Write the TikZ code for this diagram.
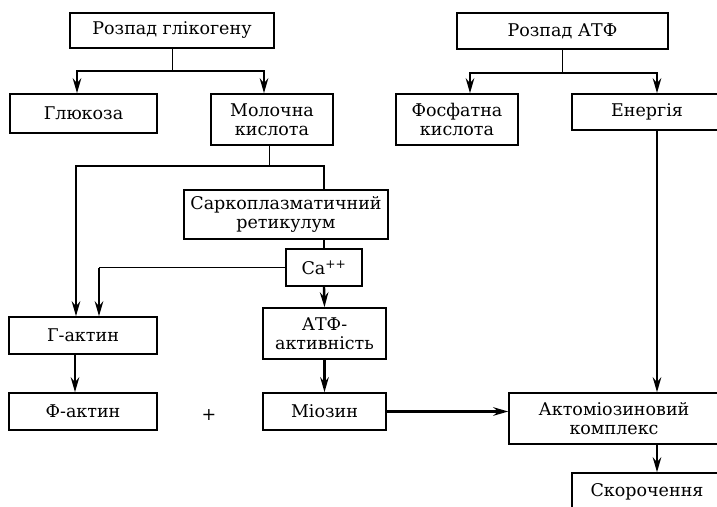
\documentclass[tikz,border=0pt]{standalone}
\usepackage{fontspec}
\setmainfont{DejaVu Serif}
\usetikzlibrary{arrows.meta}

\begin{document}
\begin{tikzpicture}[
  x=1pt, y=-1pt,
  block/.style={rectangle, draw=black, line width=1.5pt, fill=white, align=center,
                inner sep=1pt, font=\fontsize{17.5}{19}\selectfont},
  arrow/.style={-{Stealth[length=15pt, width=8.5pt, inset=5pt]}, line width=2.4pt},
  thickline/.style={line width=2.4pt},
  thinline/.style={line width=1pt}
]
\useasboundingbox (0,0) rectangle (717,506);
\clip (0,0) rectangle (717,506);

% top row
\node[block, minimum width=204pt, minimum height=35pt] (glyk) at (172,30.5) {Розпад глікогену};
\node[block, minimum width=211pt, minimum height=36pt] (atfdec) at (562.5,31) {Розпад АТФ};

% second row
\node[block, minimum width=147pt, minimum height=39pt] (glukoza) at (83.5,113.5) {Глюкоза};
\node[block, minimum width=122pt, minimum height=51pt] (molochna) at (272,119.5) {Молочна\\кислота};
\node[block, minimum width=122pt, minimum height=51pt] (fosfat) at (457,119.5) {Фосфатна\\кислота};
\node[block, minimum width=150pt, minimum height=36pt] (energy) at (647,112) {Енергія};

% middle
\node[block, minimum width=204pt, minimum height=49pt] (sarko) at (286,214.5) {Саркоплазматичний\\ретикулум};
\node[block, minimum width=76pt, minimum height=37pt] (ca) at (324,267.5) {Ca\textsuperscript{++}};
\node[block, minimum width=148pt, minimum height=37pt] (gaktin) at (83,335.5) {Г-актин};
\node[block, minimum width=123pt, minimum height=51pt] (atfakt) at (324.5,333.5) {АТФ-\\активність};

% bottom
\node[block, minimum width=148pt, minimum height=37pt] (faktin) at (83,411.5) {Ф-актин};
\node[font=\fontsize{17.5}{19}\selectfont] (plus) at (209,415) {+};
\node[block, minimum width=210pt, minimum height=51pt] (komplex) at (614,418.5) {Актоміозиновий\\комплекс};
\node[block, minimum width=123pt, minimum height=37pt] (miozin) at (324.5,411.5) {Міозин};
\node[block, minimum width=150pt, minimum height=37pt] (skor) at (647,491.5) {Скорочення};

% glycogen branch
\draw[thinline] (glyk.south) -- ++(0,22) coordinate (g1);
\draw[arrow] (g1) -| ([xshift=-6.5pt]glukoza.north);
\draw[arrow] (g1) -| ([xshift=-8pt]molochna.north);

% ATP branch
\draw[thinline] (atfdec.south) -- ++(0,23) coordinate (a1);
\draw[arrow] (a1) -| ([xshift=13pt]fosfat.north);
\draw[arrow] (a1) -| ([xshift=10pt]energy.north);

% lactic acid
\draw[thinline] ([xshift=-3pt]molochna.south) -- ++(0,20) coordinate (m1);
\draw[arrow] (m1) -| ([xshift=-7pt]gaktin.north);
\draw[thickline] (m1) -| (ca.north |- sarko.north);
\draw[thickline] (ca.north |- sarko.south) -- (ca.north);

% calcium
\draw[thinline] (ca.west) -- ([xshift=16pt]gaktin.north |- ca.west) coordinate (c1);
\draw[arrow] (c1) -- ([xshift=16pt]gaktin.north);
\draw[arrow] (ca.south) -- (atfakt.north);
\draw[arrow] (atfakt.south) -- (miozin.north);
\draw[arrow] ([xshift=-8pt]gaktin.south) -- ([xshift=-8pt]faktin.north);

% actomyosin
\draw[arrow] (miozin.east) -- (komplex.west |- miozin.east);
\draw[arrow] ([xshift=10pt]energy.south) -- ([xshift=10pt]energy.south |- komplex.north);
\draw[arrow] ([xshift=10pt]skor.north |- komplex.south) -- ([xshift=10pt]skor.north);
\end{tikzpicture}
\end{document}
